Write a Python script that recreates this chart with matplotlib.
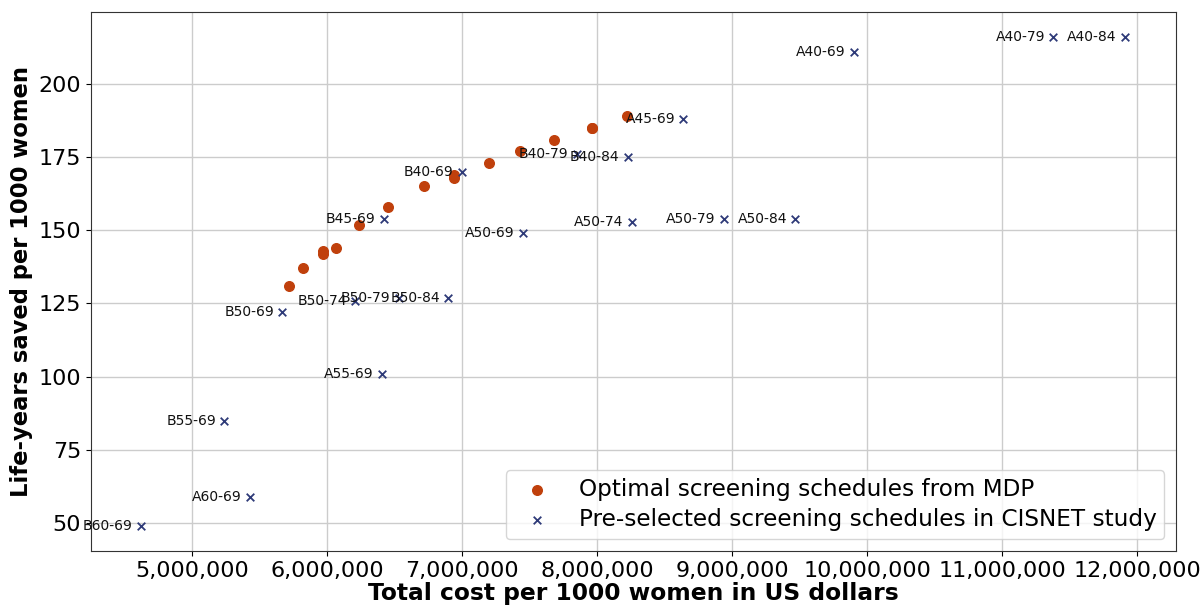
import numpy as np
import matplotlib
matplotlib.use("Agg")
import matplotlib.pyplot as plt
from matplotlib.ticker import StrMethodFormatter

# MDP optimal schedules (cost in US dollars, life-years saved)
mdp_cost = [5.72e6, 5.82e6, 5.97e6, 5.97e6, 6.07e6, 6.24e6, 6.45e6, 6.72e6,
            6.94e6, 6.94e6, 7.20e6, 7.43e6, 7.68e6, 7.96e6, 7.96e6, 8.22e6]
mdp_life = [131, 137, 142, 143, 144, 152, 158, 165,
            168, 169, 173, 177, 181, 185, 185, 189]

# CISNET pre-selected schedules
cis_names = ["B60-69", "A60-69", "B55-69", "A55-69", "B50-69", "B50-74",
             "B50-79", "B50-84", "B45-69", "A50-69", "B40-69", "B40-79",
             "B40-84", "A45-69", "A50-74", "A50-79", "A50-84", "A40-69",
             "A40-79", "A40-84"]
cis_cost = [4.62e6, 5.43e6, 5.24e6, 6.41e6, 5.67e6, 6.21e6,
            6.53e6, 6.90e6, 6.42e6, 7.45e6, 7.00e6, 7.85e6,
            8.23e6, 8.64e6, 8.26e6, 8.94e6, 9.47e6, 9.90e6,
            11.38e6, 11.91e6]
cis_life = [49, 59, 85, 101, 122, 126,
            127, 127, 154, 149, 170, 176,
            175, 188, 153, 154, 154, 211,
            216, 216]

fig = plt.figure(figsize=(12.03, 6.07), dpi=100)
ax = fig.add_axes([0.0756, 0.0923, 0.902, 0.8877])

ax.scatter(mdp_cost, mdp_life, s=48, color="#c0400c", marker="o",
           label="Optimal screening schedules from MDP", zorder=3)
ax.scatter(cis_cost, cis_life, s=30, color="#2e3a78", marker="x", linewidths=1.3,
           label="Pre-selected screening schedules in CISNET study", zorder=3)

for name, c, l in zip(cis_names, cis_cost, cis_life):
    ax.annotate(name, (c, l), xytext=(-6, 0), textcoords="offset points",
                ha="right", va="center", fontsize=10, color="#111111")

ax.set_xlim(4.252e6, 12.289e6)
ax.set_ylim(40.4, 224.6)
ax.set_xticks(np.arange(5e6, 12.5e6, 1e6))
ax.set_yticks([50, 75, 100, 125, 150, 175, 200])
ax.xaxis.set_major_formatter(StrMethodFormatter("{x:,.0f}"))
ax.tick_params(labelsize=16)
ax.grid(True, color="#cccccc", linewidth=1)
ax.set_axisbelow(True)
for sp in ax.spines.values():
    sp.set_color("#333333")

ax.set_xlabel("Total cost per 1000 women in US dollars", fontsize=16.8,
              fontweight="bold", labelpad=1)
ax.set_ylabel("Life-years saved per 1000 women", fontsize=16.3,
              fontweight="bold", labelpad=4)

ax.legend(loc="lower right", fontsize=16.7, borderaxespad=0.5,
          handletextpad=0.8, borderpad=0.35, labelspacing=0.3)

fig.savefig("out.png", dpi=100)
